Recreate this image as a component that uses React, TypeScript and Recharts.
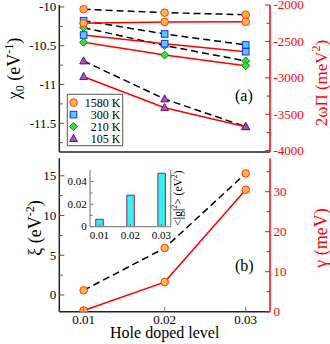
import React from 'react';
import { LineChart, Line, XAxis, YAxis, BarChart, Bar, Customized } from 'recharts';

const FONT = '"Liberation Serif", "DejaVu Serif", serif';

// ---------- data ----------
const levels = [0.01, 0.02, 0.03];
const tempLabels = ['1580 K', '300 K', '210 K', '105 K'];
// chi_0 (eV^-1), dashed black, left axis
const chi1580 = [-10.03, -10.074, -10.1];
const chi300 = [-10.177, -10.348, -10.49];
const chi210 = [-10.267, -10.497, -10.697];
const chi105 = [-10.697, -11.187, -11.544];
// 2 omega Pi (meV^2), solid red, right axis
const pi1580 = [-2251, -2233, -2229];
const pi300 = [-2412, -2531, -2641];
const pi210 = [-2512, -2687, -2833];
const pi105 = [-2984, -3410, -3671];
// lower panel
const xi = [0.59, 5.91, 15.3];
const gamma = [0.3, 7.4, 30.5];
// inset
const g2 = [0.0066, 0.028, 0.0475];

const levelTicks = [0.01, 0.02, 0.03];
const chiTicks = [-10, -10.25, -10.5, -10.75, -11, -11.25, -11.5, -11.75];
const piTicks = [-2000, -2250, -2500, -2750, -3000, -3250, -3500, -3750, -4000];
const xiTicks = [0, 2.5, 5, 7.5, 10, 12.5, 15];
const gammaTicks = [0, 5, 10, 15, 20, 25, 30, 35];
const g2Ticks = [0, 0.01, 0.02, 0.03, 0.04];

const topData = levels.map((x, i) => ({
  x,
  chi1580: chi1580[i], chi300: chi300[i], chi210: chi210[i], chi105: chi105[i],
  pi1580: pi1580[i], pi300: pi300[i], pi210: pi210[i], pi105: pi105[i],
}));
const bottomData = levels.map((x, i) => ({ x, xi: xi[i], gamma: gamma[i] }));
const insetData = levels.map((x, i) => ({ x, g2: g2[i] }));

// ---------- markers ----------
type Shape = 'circle' | 'square' | 'diamond' | 'triangle';
const shapes: Shape[] = ['circle', 'square', 'diamond', 'triangle'];
const markerStyle: Record<Shape, { fill: string; stroke: string }> = {
  circle: { fill: '#ffb356', stroke: '#ff3a00' },
  square: { fill: '#5cc8ff', stroke: '#1030ff' },
  diamond: { fill: '#3fdc3f', stroke: '#0a8a0a' },
  triangle: { fill: '#a452bc', stroke: '#5e1a78' },
};

const Marker = ({ shape, cx, cy }: { shape: Shape; cx: number; cy: number }) => {
  const s = markerStyle[shape];
  const c = { fill: s.fill, stroke: s.stroke, strokeWidth: 1 };
  if (shape === 'circle') return <circle cx={cx} cy={cy} r={3.8} {...c} />;
  if (shape === 'square') return <rect x={cx - 3.3} y={cy - 3.3} width={6.6} height={6.6} {...c} />;
  if (shape === 'diamond')
    return <polygon points={`${cx},${cy - 4} ${cx + 4},${cy} ${cx},${cy + 4} ${cx - 4},${cy}`} {...c} />;
  return <polygon points={`${cx},${cy - 4.2} ${cx + 3.9},${cy + 2.9} ${cx - 3.9},${cy + 2.9}`} {...c} />;
};

const dotFor = (shape: Shape) => (props: any) => {
  const { cx, cy, index } = props;
  if (cx == null || cy == null) return <g key={`e-${index}`} />;
  return <Marker key={`${shape}-${index}-${cx}-${cy}`} shape={shape} cx={cx} cy={cy} />;
};

// ---------- ticks ----------
type TickOpts = {
  side: 'left' | 'right' | 'bottom' | 'top';
  color: string;
  labelColor?: string;
  isMajor: (v: number) => boolean;
  fmt?: (v: number) => string;
  fontSize?: number;
  gap?: number;
  majorLen: number;
  minorLen: number;
  labels: boolean;
};

const makeTick = (o: TickOpts) => (props: any) => {
  const { x, y, payload, index } = props;
  const v = payload.value;
  const maj = o.isMajor(v);
  const len = maj ? o.majorLen : o.minorLen;
  const fs = o.fontSize ?? 13;
  const gap = o.gap ?? 3;
  const txt = o.fmt ? o.fmt(v) : String(v);
  const tp = { fontSize: fs, fontFamily: FONT, fill: o.labelColor ?? '#000' };
  let line: React.ReactNode = null;
  let label: React.ReactNode = null;
  if (o.side === 'left') {
    line = <line x1={x} x2={x + len} y1={y} y2={y} stroke={o.color} strokeWidth={1} />;
    if (maj && o.labels) label = <text x={x - gap} y={y} dy="0.34em" textAnchor="end" {...tp}>{txt}</text>;
  } else if (o.side === 'right') {
    line = <line x1={x} x2={x - len} y1={y} y2={y} stroke={o.color} strokeWidth={1} />;
    if (maj && o.labels) label = <text x={x + gap} y={y} dy="0.34em" textAnchor="start" {...tp}>{txt}</text>;
  } else if (o.side === 'bottom') {
    line = <line x1={x} x2={x} y1={y} y2={y - len} stroke={o.color} strokeWidth={1} />;
    if (maj && o.labels) label = <text x={x} y={y + gap} textAnchor="middle" {...tp}>{txt}</text>;
  } else {
    line = <line x1={x} x2={x} y1={y} y2={y + len} stroke={o.color} strokeWidth={1} />;
  }
  return (
    <g key={`t-${index}`}>
      {line}
      {label}
    </g>
  );
};

const near = (a: number, b: number) => Math.abs(a - b) < 1e-9;

const chiTick = makeTick({ side: 'left', color: '#555', isMajor: (v) => near(v * 2, Math.round(v * 2)), majorLen: 5, minorLen: 3.5, labels: true });
const piTick = makeTick({ side: 'right', color: '#ff0000', labelColor: '#ff0000', isMajor: (v) => v % 500 === 0, majorLen: 5, minorLen: 3.5, labels: true, gap: 3.5 });
const xiTick = makeTick({ side: 'left', color: '#555', isMajor: (v) => v % 5 === 0, majorLen: 5, minorLen: 3.5, labels: true });
const gammaTick = makeTick({ side: 'right', color: '#ff0000', labelColor: '#ff0000', isMajor: (v) => v % 10 === 0, majorLen: 5, minorLen: 3.5, labels: true, gap: 3.5 });
const levelTickBottom = makeTick({ side: 'bottom', color: '#777', isMajor: () => true, majorLen: 5, minorLen: 5, labels: true, gap: 12.7 });
const levelTickTop = makeTick({ side: 'top', color: '#777', isMajor: () => true, majorLen: 5, minorLen: 5, labels: false });
const g2Tick = makeTick({ side: 'left', color: '#777', isMajor: (v) => Math.round(v * 100) % 2 === 0, fmt: (v) => (v === 0 ? '0' : v.toFixed(2)), majorLen: 3.5, minorLen: 2.5, labels: true, fontSize: 11, gap: 3.3 });
const insetXTick = makeTick({ side: 'bottom', color: '#777', isMajor: () => true, fmt: (v) => v.toFixed(2), majorLen: 3, minorLen: 3, labels: true, fontSize: 11, gap: 11.8 });

const FRAME = { stroke: '#222', strokeWidth: 1.5 };
const RED = '#ff0000';

// ---------- overlays ----------
const TopOverlay = () => (
  <g fontFamily={FONT}>
    <text transform="rotate(-90, 20, 68.5)" x={20} y={68.5} textAnchor="middle" fontSize={18} fill="#000">
      χ<tspan dy={4} fontSize={12}>0</tspan>
      <tspan dy={-4}> (eV</tspan>
      <tspan dy={-7} fontSize={12}>-1</tspan>
      <tspan dy={7}>)</tspan>
    </text>
    <text transform="rotate(-90, 327, 83)" x={327} y={83} textAnchor="middle" fontSize={17} fill={RED}>
      2ωΠ (meV<tspan dy={-7} fontSize={12}>2</tspan>
      <tspan dy={7}>)</tspan>
    </text>
    <text x={235} y={101} fontSize={16} fill="#000">(a)</text>
    <rect x={67.3} y={94.3} width={55.4} height={51.4} fill="#fff" stroke="#555" strokeWidth={1} />
    {tempLabels.map((t, i) => {
      const cy = 102.6 + i * 12;
      return (
        <g key={t}>
          <Marker shape={shapes[i]} cx={73.5} cy={cy} />
          <text x={120.5} y={cy} dy="0.35em" textAnchor="end" fontSize={12} fill="#000">{t}</text>
        </g>
      );
    })}
  </g>
);

const BottomOverlay = () => (
  <g fontFamily={FONT}>
    <text transform="rotate(-90, 41, 78)" x={41} y={78} textAnchor="middle" fontSize={18} fill="#000">
      ξ (eV<tspan dy={-7} fontSize={12}>-2</tspan>
      <tspan dy={7}>)</tspan>
    </text>
    <text transform="rotate(-90, 327, 88)" x={327} y={88} textAnchor="middle" fontSize={18} fill={RED}>
      γ (meV)
    </text>
    <text x={235} y={120.5} fontSize={16} fill="#000">(b)</text>
    <text x={164.7} y={188.3} textAnchor="middle" fontSize={16} fill="#000">Hole doped level</text>
  </g>
);

const InsetOverlay = () => (
  <g fontFamily={FONT}>
    <text transform="rotate(-90, 122, 38)" x={122} y={38} textAnchor="middle" fontSize={11.5} fill="#000">
      &lt;|g|<tspan dy={-5} fontSize={8}>2</tspan>
      <tspan dy={5}>&gt; (eV</tspan>
      <tspan dy={-5} fontSize={8}>2</tspan>
      <tspan dy={5}>)</tspan>
    </text>
  </g>
);

const chiKeys = ['chi1580', 'chi300', 'chi210', 'chi105'];
const piKeys = ['pi1580', 'pi300', 'pi210', 'pi105'];

export default function App() {
  return (
    <div style={{ position: 'absolute', left: 0, top: 0, width: 330, height: 344, background: '#fff', fontFamily: FONT }}>
      {/* top panel */}
      <div style={{ position: 'absolute', left: 0, top: 0 }}>
        <LineChart width={330} height={160} data={topData} margin={{ top: 5, right: 0, bottom: 0, left: 0 }}>
          <XAxis xAxisId="b" type="number" dataKey="x" domain={[0.007, 0.033]} allowDataOverflow ticks={levelTicks} height={8} axisLine={FRAME} tick={false} tickLine={false} />
          <XAxis xAxisId="t" orientation="top" type="number" dataKey="x" domain={[0.007, 0.033]} allowDataOverflow height={0} axisLine={FRAME} tick={false} tickLine={false} />
          <YAxis yAxisId="l" type="number" domain={[-11.87, -9.975]} allowDataOverflow ticks={chiTicks} interval={0} width={59.3} axisLine={FRAME} tickLine={false} tickSize={0} tickMargin={0} tick={chiTick} />
          <YAxis yAxisId="r" orientation="right" type="number" domain={[-4018, -2000]} allowDataOverflow ticks={piTicks} interval={0} width={60} axisLine={{ stroke: RED, strokeWidth: 1.5 }} tickLine={false} tickSize={0} tickMargin={0} tick={piTick} />
          {chiKeys.map((k, i) => (
            <Line key={k} xAxisId="b" yAxisId="l" type="linear" dataKey={k} stroke="#000" strokeWidth={1.5} strokeDasharray="7 4" dot={dotFor(shapes[i])} activeDot={false} isAnimationActive={false} />
          ))}
          {piKeys.map((k, i) => (
            <Line key={k} xAxisId="b" yAxisId="r" type="linear" dataKey={k} stroke={RED} strokeWidth={1.5} dot={dotFor(shapes[i])} activeDot={false} isAnimationActive={false} />
          ))}
          <Customized component={TopOverlay} />
        </LineChart>
      </div>
      {/* bottom panel */}
      <div style={{ position: 'absolute', left: 0, top: 150 }}>
        <LineChart width={330} height={194} data={bottomData} margin={{ top: 8.3, right: 0, bottom: 0, left: 0 }}>
          <XAxis xAxisId="b" type="number" dataKey="x" domain={[0.007, 0.033]} allowDataOverflow ticks={levelTicks} interval={0} height={32.3} axisLine={FRAME} tickLine={false} tickSize={0} tickMargin={0} tick={levelTickBottom} />
          <XAxis xAxisId="t" orientation="top" type="number" dataKey="x" domain={[0.007, 0.033]} allowDataOverflow ticks={levelTicks} interval={0} height={0} axisLine={FRAME} tickLine={false} tickSize={0} tickMargin={0} tick={levelTickTop} />
          <YAxis yAxisId="l" type="number" domain={[-2.1, 17.2]} allowDataOverflow ticks={xiTicks} interval={0} width={59.3} axisLine={FRAME} tickLine={false} tickSize={0} tickMargin={0} tick={xiTick} />
          <YAxis yAxisId="r" orientation="right" type="number" domain={[0, 38.35]} allowDataOverflow ticks={gammaTicks} interval={0} width={60} axisLine={{ stroke: RED, strokeWidth: 1.5 }} tickLine={false} tickSize={0} tickMargin={0} tick={gammaTick} />
          <Line xAxisId="b" yAxisId="l" type="linear" dataKey="xi" stroke="#000" strokeWidth={1.5} strokeDasharray="7 4" dot={dotFor('circle')} activeDot={false} isAnimationActive={false} />
          <Line xAxisId="b" yAxisId="r" type="linear" dataKey="gamma" stroke={RED} strokeWidth={1.5} dot={dotFor('circle')} activeDot={false} isAnimationActive={false} />
          <Customized component={BottomOverlay} />
        </LineChart>
      </div>
      {/* inset */}
      <div style={{ position: 'absolute', left: 60, top: 160 }}>
        <BarChart width={135} height={85} data={insetData} margin={{ top: 10, right: 0, bottom: 0, left: 0 }}>
          <XAxis xAxisId="b" type="number" dataKey="x" domain={[0.007, 0.033]} allowDataOverflow ticks={levelTicks} interval={0} height={18.3} axisLine={{ stroke: '#888', strokeWidth: 1.2 }} tickLine={false} tickSize={0} tickMargin={0} tick={insetXTick} />
          <XAxis xAxisId="t" orientation="top" type="number" dataKey="x" domain={[0.007, 0.033]} allowDataOverflow height={0} axisLine={{ stroke: '#888', strokeWidth: 1.2 }} tick={false} tickLine={false} />
          <YAxis yAxisId="l" type="number" domain={[0, 0.0504]} allowDataOverflow ticks={g2Ticks} interval={0} width={30} axisLine={{ stroke: '#888', strokeWidth: 1.2 }} tickLine={false} tickSize={0} tickMargin={0} tick={g2Tick} />
          <YAxis yAxisId="r" orientation="right" type="number" domain={[0, 0.0504]} allowDataOverflow width={24.3} axisLine={{ stroke: '#888', strokeWidth: 1.2 }} tick={false} tickLine={false} />
          <Bar xAxisId="b" yAxisId="l" dataKey="g2" fill="#3deeee" stroke="#7a2a7a" strokeWidth={1} barSize={7.5} isAnimationActive={false} />
          <Customized component={InsetOverlay} />
        </BarChart>
      </div>
    </div>
  );
}
